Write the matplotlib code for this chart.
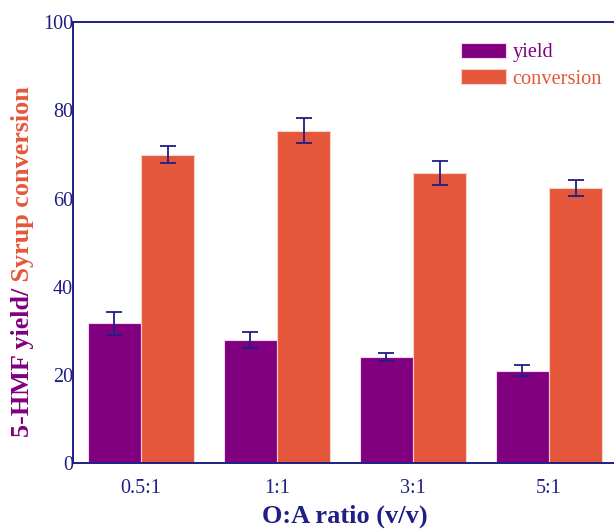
import numpy as np
import matplotlib
matplotlib.use("Agg")
import matplotlib.pyplot as plt

# Data
ratios = ["0.5:1", "1:1", "3:1", "5:1"]
yield_vals = [31.7, 27.9, 24.1, 21.0]
yield_err = [2.6, 1.8, 0.9, 1.2]
conv_vals = [69.9, 75.4, 65.8, 62.4]
conv_err = [1.9, 2.9, 2.8, 1.9]

PURPLE = "#800080"
ORANGE = "#E5573B"
NAVY = "#1f1f85"

plt.rcParams["font.family"] = ["Liberation Serif", "DejaVu Serif"]

fig = plt.figure(figsize=(6.14, 5.29), dpi=100)
ax = fig.add_axes([73 / 614, 1 - 463.3 / 529, 544 / 614, (463.3 - 22) / 529])

x = np.arange(len(ratios))
w = 0.39
ekw = dict(ecolor=NAVY, elinewidth=1.3, capsize=5.5, capthick=1.3)
ax.bar(x - w / 2, yield_vals, w, yerr=yield_err, color=PURPLE,
       edgecolor="#f3d6ee", linewidth=0.8, error_kw=ekw, label="yield")
ax.bar(x + w / 2, conv_vals, w, yerr=conv_err, color=ORANGE,
       edgecolor="#f7d3c9", linewidth=0.8, error_kw=ekw, label="conversion")

ax.set_xlim(-0.5, 3.5)
ax.set_ylim(0, 100)
ax.set_yticks(range(0, 101, 20))
ax.set_xticks(x)
ax.set_xticklabels(ratios)
ax.tick_params(axis="both", length=0, labelsize=14.5, labelcolor=NAVY)
ax.tick_params(axis="y", pad=0)
ax.tick_params(axis="x", pad=11)

for side in ("left", "top", "bottom"):
    ax.spines[side].set_color(NAVY)
    ax.spines[side].set_linewidth(1.4)
ax.spines["right"].set_visible(False)

ax.set_xlabel("O:A ratio (v/v)", fontsize=19, fontweight="bold", color=NAVY, labelpad=5)

leg = ax.legend(loc="upper left", bbox_to_anchor=(0.68, 0.995), frameon=False,
                fontsize=14.7, handlelength=2.2, handleheight=0.8,
                handletextpad=0.3, labelspacing=0.3)
for t, c in zip(leg.get_texts(), [PURPLE, ORANGE]):
    t.set_color(c)

# Two-colour vertical y-axis label
fig.canvas.draw()
renderer = fig.canvas.get_renderer()
x_lab = 23 / 614
y0 = 1 - 437 / 529
t1 = fig.text(x_lab, y0, "5-HMF yield/", rotation=90, ha="center", va="bottom",
              fontsize=18.8, fontweight="bold", color=PURPLE)
bb = t1.get_window_extent(renderer)
y1 = y0 + bb.height / fig.bbox.height
fig.text(x_lab, y1, " Syrup conversion", rotation=90, ha="center", va="bottom",
         fontsize=18.8, fontweight="bold", color=ORANGE)

fig.savefig("out.png", dpi=100)
